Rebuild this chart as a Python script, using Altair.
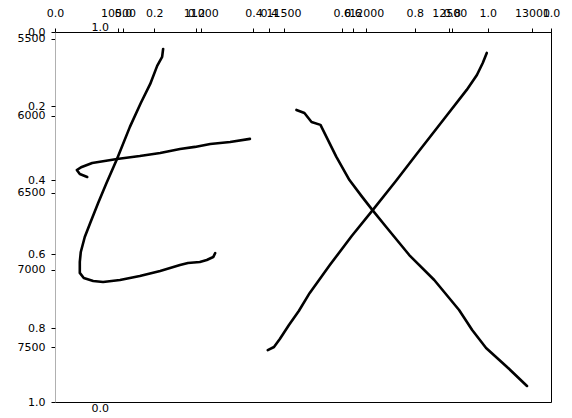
import altair as alt
import pandas as pd

FONT = "DejaVu Sans"

# tick values
norm_ticks = [0.0, 0.2, 0.4, 0.6, 0.8, 1.0]
depth_ticks = [5500, 6000, 6500, 7000, 7500]
d_ticks = [10500, 11000, 11500, 12000, 12500, 13000]

# curve 1 (host 0-1 axis)
curve1_val = [0.218, 0.216, 0.206, 0.192, 0.173, 0.151, 0.125, 0.103, 0.087, 0.071, 0.060, 0.052, 0.050,
              0.050, 0.058, 0.077, 0.097, 0.131, 0.171, 0.212, 0.252, 0.268, 0.292, 0.306, 0.319, 0.323]
curve1_depth = [5565, 5617, 5675, 5792, 5916, 6071, 6279, 6442, 6565, 6695, 6786, 6883, 6948,
                7019, 7052, 7071, 7078, 7065, 7039, 7006, 6968, 6955, 6948, 6935, 6916, 6890]

# curve 2 (host 0-1 axis)
curve2_val = [0.065, 0.050, 0.044, 0.054, 0.075, 0.125, 0.171, 0.212, 0.252, 0.282, 0.313, 0.353, 0.393]
curve2_depth = [6396, 6377, 6351, 6331, 6305, 6279, 6260, 6240, 6214, 6201, 6182, 6169, 6149]

# curve 3 (second 0-1 axis)
curve3_val = [0.397, 0.414, 0.430, 0.455, 0.482, 0.512, 0.567, 0.627, 0.685, 0.748, 0.805, 0.882,
              0.942, 0.970, 0.986, 0.997]
curve3_depth = [7520, 7500, 7448, 7357, 7266, 7149, 6968, 6779, 6610, 6422, 6247, 6013,
                5831, 5734, 5656, 5591]

# curve 4 (10500-13000 axis)
curve4_val = [11578, 11626, 11669, 11723, 11819, 11898, 11970, 12036, 12120, 12259, 12410, 12560,
              12639, 12723, 12843, 12970]
curve4_depth = [5961, 5981, 6039, 6058, 6266, 6416, 6519, 6610, 6721, 6903, 7065, 7260,
                7390, 7506, 7623, 7753]

dfA = pd.DataFrame({
    "curve": ["c1"] * len(curve1_val) + ["c2"] * len(curve2_val),
    "val": curve1_val + curve2_val,
    "depth": curve1_depth + curve2_depth,
    "i": list(range(len(curve1_val))) + list(range(len(curve2_val))),
})
dfC = pd.DataFrame({"val": curve3_val, "depth": curve3_depth, "i": list(range(len(curve3_val)))})
dfD = pd.DataFrame({"val": curve4_val, "depth": curve4_depth, "i": list(range(len(curve4_val)))})
dfN = pd.DataFrame({"n": [0.0, 1.0]})

line = dict(color="black", strokeWidth=2.6, strokeJoin="round", strokeCap="round")
lab = dict(labelColor="black", labelFont=FONT, labelFontSize=11, labelFlush=False,
           labelOverlap=False, labelBound=False, title=None, grid=False)


def top_axis(values, fmt):
    return alt.Axis(orient="top", values=values, format=fmt, domainColor="black", domainWidth=1,
                    tickColor="black", tickSize=4, tickWidth=1, labelPadding=10, **lab)


depth_scale = alt.Scale(domain=[5455, 7857], reverse=True, nice=False, zero=False)

layerA = alt.Chart(dfA).mark_line(**line).encode(
    x=alt.X("val:Q", scale=alt.Scale(domain=[0, 1], nice=False, zero=False),
            axis=top_axis(norm_ticks, ".1f")),
    y=alt.Y("depth:Q", scale=depth_scale,
            axis=alt.Axis(orient="left", values=depth_ticks, format="d", domainColor="#b0b0b0",
                          tickColor="black", tickSize=4, labelPadding=6, **lab)),
    detail="curve:N",
    order="i:Q",
)

layerC = alt.Chart(dfC).mark_line(**line).encode(
    x=alt.X("val:Q", scale=alt.Scale(domain=[-0.186, 1.173], nice=False, zero=False),
            axis=top_axis(norm_ticks, ".1f")),
    y=alt.Y("depth:Q", scale=depth_scale, axis=None),
    order="i:Q",
)

layerD = alt.Chart(dfD).mark_line(**line).encode(
    x=alt.X("val:Q", scale=alt.Scale(domain=[10120, 13115], nice=False, zero=False),
            axis=top_axis(d_ticks, "d")),
    y=alt.Y("depth:Q", scale=depth_scale, axis=None),
    order="i:Q",
)

layerN = alt.Chart(dfN).mark_point(opacity=0).encode(
    x=alt.X("n:Q", scale=alt.Scale(domain=[0, 1], nice=False),
            axis=alt.Axis(orient="bottom", labels=False, ticks=False, domainColor="black",
                          title=None, grid=False)),
    y=alt.Y("n:Q", scale=alt.Scale(domain=[0, 1], reverse=True, nice=False),
            axis=alt.Axis(orient="left", values=norm_ticks, format=".1f", domain=False,
                          tickColor="black", tickSize=4, labelPadding=6, **lab)),
)

layerR = alt.Chart(dfN).mark_point(opacity=0).encode(
    y=alt.Y("n:Q", scale=alt.Scale(domain=[0, 1], nice=False),
            axis=alt.Axis(orient="right", labels=False, ticks=False, domainColor="black",
                          title=None, grid=False)),
)

layerI = alt.Chart(dfN).mark_point(opacity=0).encode(
    y=alt.Y("n:Q", scale=alt.Scale(domain=[0, 1], nice=False),
            axis=alt.Axis(orient="right", offset=-461, values=[0, 1], format=".1f", domain=False,
                          ticks=False, labelPadding=1,
                          labelBaseline={"condition": {"test": "datum.value > 0.5", "value": "bottom"},
                                         "value": "top"},
                          **lab)),
)

chart = (
    alt.layer(layerA, layerC, layerD, layerN, layerR, layerI)
    .resolve_scale(x="independent", y="independent")
    .properties(
        width=496,
        height=370,
        autosize=alt.AutoSizeParams(type="none"),
        padding={"left": 55, "top": 32, "right": 21, "bottom": 16},
    )
    .configure_view(stroke=None)
    .configure(background="white")
)

chart.save("out.html", embed_options={"renderer": "svg", "actions": False})
